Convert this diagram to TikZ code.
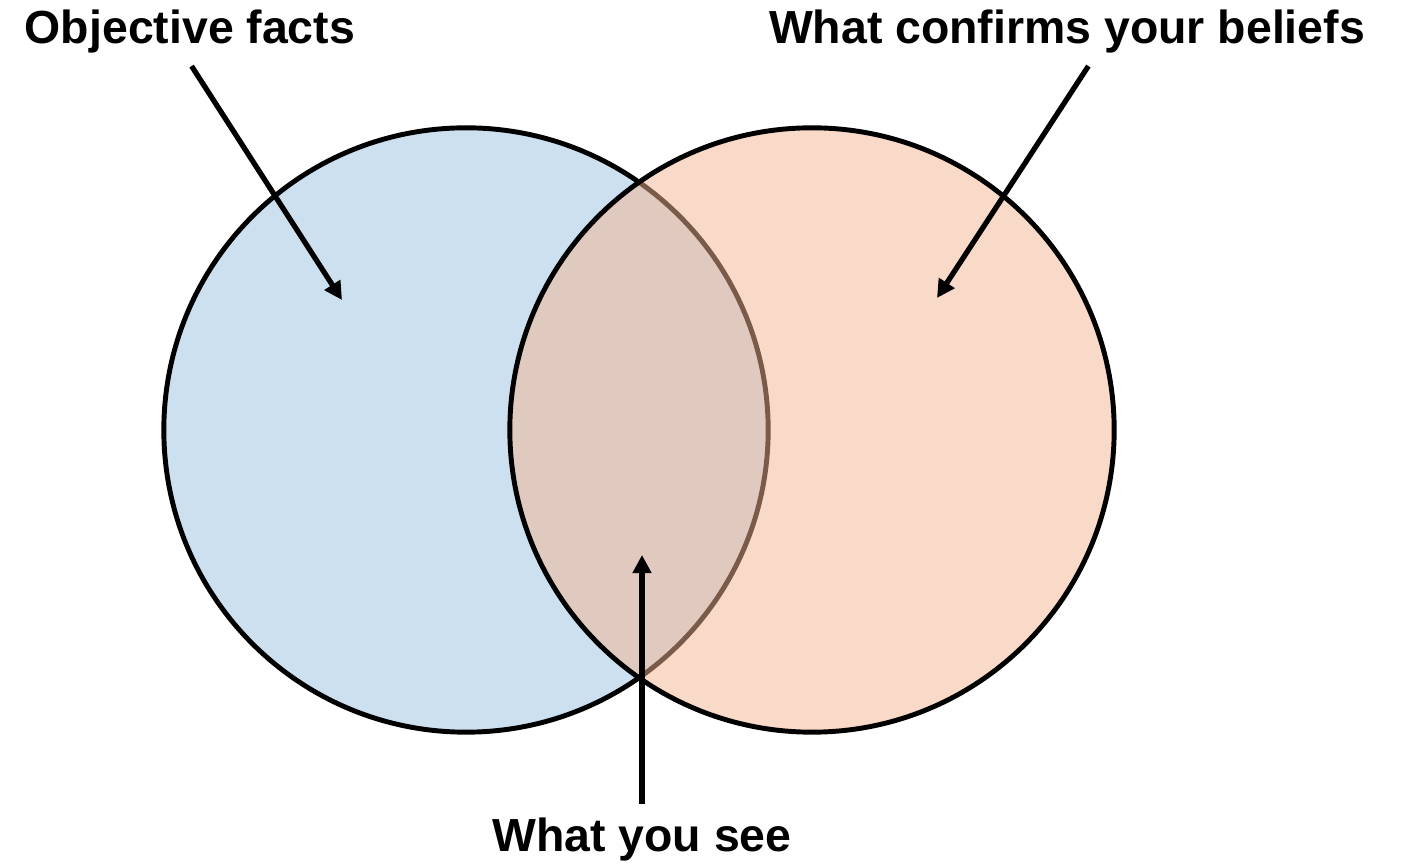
\documentclass[tikz,border=0pt]{standalone}
\usepackage{fontspec}
\setmainfont{Liberation Sans}
\usetikzlibrary{arrows.meta}
\definecolor{factblue}{RGB}{204,224,240}
\definecolor{beliefpeach}{RGB}{244,180,144}

\begin{document}
\begin{tikzpicture}[x=0.01cm,y=-0.01cm,>={Triangle[length=1.8mm,width=1.8mm]},
	set/.style={circle,draw,line width=1.4pt,minimum size=6.04cm,inner sep=0pt,outer sep=0pt},
	lbl/.style={font=\fontsize{13.2}{16}\selectfont\bfseries,inner sep=0pt,anchor=base},
	pointer/.style={->,line width=1.5pt,shorten <=1.4mm}]
	\useasboundingbox (0,0) rectangle (1422,865);
	% the two sets
	\node[set,fill=factblue] (facts) at (466,430) {};
	\node[set,fill=beliefpeach,fill opacity=.5] (beliefs) at (812,430) {};
	% labels
	\node[lbl] (l-facts) at (190,44) {Objective facts};
	\node[lbl] (l-beliefs) at (1067,44) {What confirms your beliefs};
	\node[lbl] (l-see) at (642,852) {What you see};
	\coordinate (t-facts) at (342,300);
	\coordinate (t-beliefs) at (937,298);
	\coordinate (t-see) at (642,555);
	% pointers
	\draw[pointer] ([xshift=-0.6mm]l-facts.south) -- (t-facts);
	\draw[pointer] ([xshift=2.9mm]l-beliefs.south) -- (t-beliefs);
	\draw[pointer] (l-see.north) -- (t-see);
\end{tikzpicture}
\end{document}
